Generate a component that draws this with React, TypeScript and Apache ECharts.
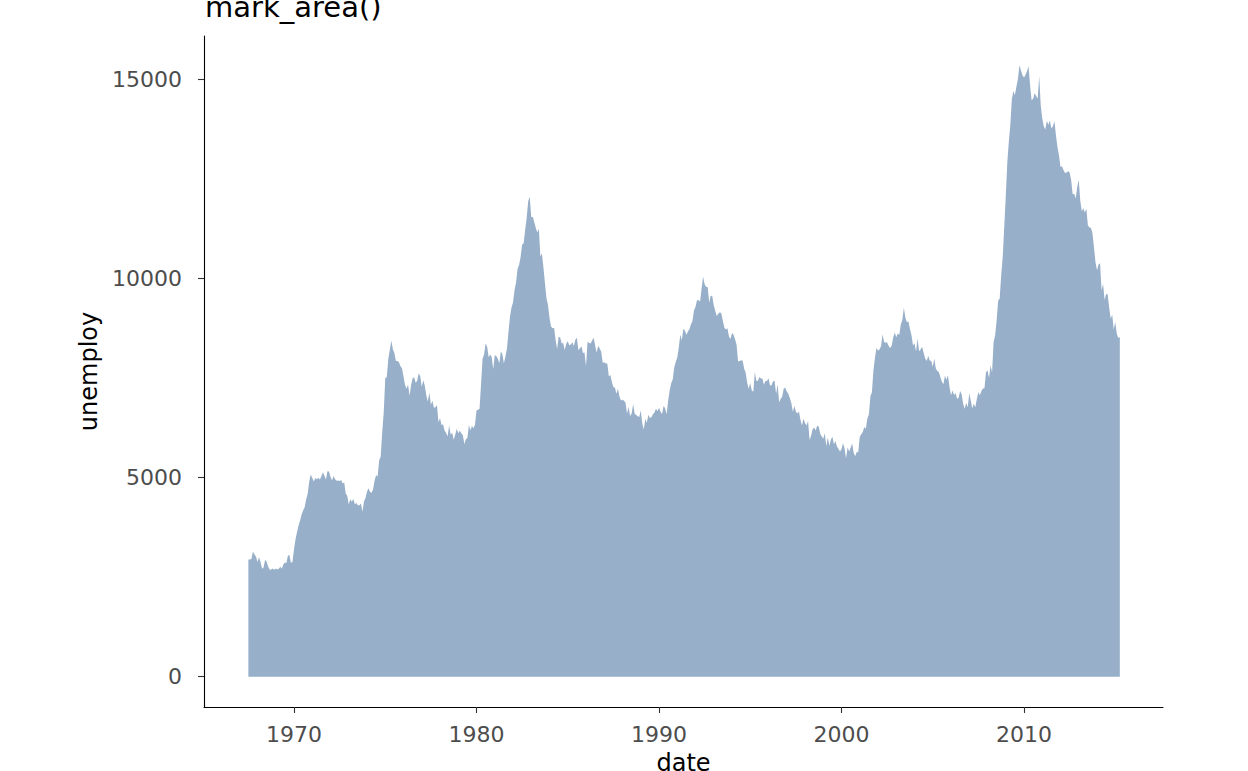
import React, { useEffect, useRef } from "react";
import * as echarts from "echarts";

// economics dataset: monthly unemployment (thousands), starting 1967-07
const startYear = 1967;
const startMonth = 7;
const unemploy: number[] = [
  // 1967 (Jul-Dec)
  2944, 2945, 2958, 3143, 3066, 3018,
  // 1968
  2878, 3001, 2877, 2709, 2740, 2938, 2883, 2768, 2686, 2689, 2715, 2685,
  // 1969
  2718, 2692, 2712, 2758, 2713, 2816, 2868, 2856, 3040, 3049, 2856, 2884,
  // 1970
  3201, 3453, 3635, 3797, 3919, 4071, 4175, 4256, 4456, 4591, 4898, 5076,
  // 1971
  4986, 4903, 4987, 4959, 4996, 4949, 5035, 5134, 5042, 4954, 5161, 5154,
  // 1972
  5019, 4928, 5038, 4959, 4922, 4923, 4913, 4939, 4849, 4875, 4602, 4543,
  // 1973
  4326, 4452, 4394, 4459, 4329, 4363, 4305, 4305, 4350, 4144, 4396, 4489,
  // 1974
  4644, 4731, 4634, 4618, 4705, 4927, 5063, 5022, 5437, 5523, 6140, 6636,
  // 1975
  7501, 7520, 7978, 8210, 8433, 8220, 8127, 7928, 7923, 7897, 7794, 7744,
  // 1976
  7534, 7326, 7230, 7330, 7053, 7322, 7490, 7518, 7380, 7430, 7620, 7545,
  // 1977
  7280, 7443, 7307, 7059, 6911, 7134, 6829, 6925, 6751, 6763, 6815, 6386,
  // 1978
  6489, 6318, 6337, 6180, 6127, 6028, 6309, 6080, 6125, 5947, 6077, 6228,
  // 1979
  6109, 6173, 6109, 6069, 5840, 5959, 5996, 6320, 6190, 6296, 6238, 6325,
  // 1980
  6683, 6702, 6729, 7358, 7984, 8098, 8363, 8281, 8021, 8088, 8023, 7718,
  // 1981
  8071, 8051, 7982, 7869, 8174, 8098, 7863, 8036, 8230, 8646, 9029, 9267,
  // 1982
  9397, 9705, 9895, 10244, 10335, 10538, 10849, 10881, 11217, 11529, 11938, 12051,
  // 1983
  11534, 11545, 11408, 11268, 11154, 11246, 10548, 10623, 10282, 9887, 9499, 9331,
  // 1984
  9008, 8791, 8746, 8762, 8456, 8226, 8537, 8519, 8367, 8381, 8198, 8358,
  // 1985
  8423, 8321, 8339, 8395, 8302, 8460, 8513, 8196, 8248, 8298, 8128, 8138,
  // 1986
  7795, 8402, 8383, 8364, 8439, 8508, 8319, 8135, 8310, 8243, 8159, 7883,
  // 1987
  7892, 7865, 7862, 7542, 7574, 7398, 7268, 7261, 7102, 7227, 7035, 6936,
  // 1988
  6953, 6929, 6876, 6601, 6779, 6546, 6605, 6843, 6604, 6568, 6537, 6518,
  // 1989
  6682, 6359, 6205, 6468, 6375, 6577, 6495, 6511, 6590, 6630, 6725, 6667,
  // 1990
  6752, 6651, 6598, 6797, 6742, 6590, 6922, 7188, 7368, 7459, 7764, 7901,
  // 1991
  8015, 8265, 8586, 8439, 8736, 8692, 8586, 8666, 8722, 8842, 8931, 9198,
  // 1992
  9283, 9454, 9460, 9415, 9744, 10040, 9850, 9787, 9781, 9398, 9565, 9557,
  // 1993
  9325, 9183, 9056, 9110, 9149, 9121, 8930, 8763, 8714, 8750, 8542, 8477,
  // 1994
  8630, 8583, 8470, 8331, 7915, 7927, 7946, 7933, 7734, 7632, 7375, 7230,
  // 1995
  7375, 7187, 7153, 7645, 7430, 7427, 7527, 7484, 7478, 7328, 7426, 7423,
  // 1996
  7491, 7313, 7318, 7415, 7423, 7095, 7337, 6882, 6979, 7031, 7236, 7253,
  // 1997
  7158, 7102, 7000, 6873, 6655, 6799, 6655, 6608, 6656, 6454, 6308, 6476,
  // 1998
  6368, 6306, 6422, 5941, 6047, 6212, 6259, 6179, 6300, 6280, 6100, 6032,
  // 1999
  5976, 6111, 5783, 6004, 5796, 5951, 6025, 5838, 5915, 5778, 5716, 5653,
  // 2000
  5708, 5858, 5733, 5481, 5758, 5651, 5747, 5853, 5625, 5534, 5639, 5634,
  // 2001
  6023, 6089, 6141, 6271, 6226, 6484, 6583, 7042, 7142, 7694, 8003, 8258,
  // 2002
  8182, 8215, 8304, 8599, 8399, 8393, 8390, 8304, 8251, 8307, 8520, 8640,
  // 2003
  8520, 8618, 8588, 8842, 8957, 9266, 9011, 8896, 8921, 8732, 8576, 8317,
  // 2004
  8370, 8167, 8491, 8170, 8212, 8286, 8136, 7990, 7927, 8061, 7932, 7934,
  // 2005
  7784, 7980, 7737, 7672, 7651, 7524, 7406, 7345, 7553, 7453, 7566, 7279,
  // 2006
  7064, 7184, 7072, 7120, 6980, 7001, 7175, 7091, 6847, 6727, 6872, 6762,
  // 2007
  7116, 6927, 6731, 6850, 6766, 6979, 7149, 7067, 7170, 7237, 7240, 7645,
  // 2008
  7685, 7497, 7822, 7637, 8395, 8575, 8937, 9438, 9494, 10074, 10538, 11286,
  // 2009
  12058, 12898, 13426, 13853, 14499, 14707, 14601, 14814, 15009, 15352, 15219, 15098,
  // 2010
  15046, 15113, 15202, 15325, 14849, 14474, 14512, 14648, 14579, 14516, 15081, 14348,
  // 2011
  14013, 13820, 13737, 13957, 13855, 13962, 13763, 13818, 13948, 13594, 13302, 13093,
  // 2012
  12797, 12813, 12713, 12646, 12660, 12692, 12656, 12471, 12115, 12124, 12005, 12298,
  // 2013
  12471, 11950, 11689, 11760, 11654, 11751, 11335, 11279, 11270, 11136, 10787, 10404,
  // 2014
  10202, 10349, 10380, 9702, 9859, 9460, 9608, 9599, 9262, 8990, 9090, 8717,
  // 2015 (Jan-Apr)
  8903, 8610, 8504, 8526,
];

const xTicks = [1970, 1980, 1990, 2000, 2010];
const yTicks = [0, 5000, 10000, 15000];

const FONT = "DejaVu Sans";

export default function App() {
  const ref = useRef<HTMLDivElement>(null);
  useEffect(() => {
    if (!ref.current) return;
    const chart = echarts.init(ref.current, null, { renderer: "svg" });
    const data = unemploy.map((v, i) => {
      const m = startMonth - 1 + i;
      return [startYear + Math.floor(m / 12) + (m % 12) / 12, v];
    });
    chart.setOption({
      animation: false,
      backgroundColor: "#ffffff",
      textStyle: { fontFamily: FONT },
      grid: {
        left: 204,
        top: 36,
        right: 85,
        bottom: 64,
        containLabel: false,
        outerBoundsMode: "none",
      },
      graphic: [
        {
          type: "text",
          left: 205,
          top: -8,
          style: {
            text: "mark_area()",
            fontFamily: FONT,
            fontSize: 29,
            fill: "#000000",
          },
        },
      ],
      xAxis: {
        type: "value",
        min: 1965.068,
        max: 2017.616,
        name: "date",
        nameLocation: "middle",
        nameGap: 44,
        nameTextStyle: { fontFamily: FONT, fontSize: 24, color: "#000000" },
        axisLine: {
          show: true,
          onZero: false,
          lineStyle: { color: "#000000", width: 1.1 },
        },
        axisTick: {
          show: true,
          length: 6,
          customValues: xTicks,
          lineStyle: { color: "#333333", width: 1.1 },
        },
        axisLabel: {
          customValues: xTicks,
          margin: 16,
          fontFamily: FONT,
          fontSize: 22,
          color: "#4d4d4d",
          formatter: (v: number) => String(Math.round(v)),
        },
        splitLine: { show: false },
      },
      yAxis: {
        type: "value",
        min: -761,
        max: 16086,
        name: "unemploy",
        nameLocation: "middle",
        nameGap: 97,
        nameRotate: 90,
        nameTextStyle: { fontFamily: FONT, fontSize: 24, color: "#000000" },
        axisLine: {
          show: true,
          onZero: false,
          lineStyle: { color: "#000000", width: 1.1 },
        },
        axisTick: {
          show: true,
          length: 6,
          customValues: yTicks,
          lineStyle: { color: "#333333", width: 1.1 },
        },
        axisLabel: {
          customValues: yTicks,
          margin: 22,
          fontFamily: FONT,
          fontSize: 22,
          color: "#4d4d4d",
          formatter: (v: number) => String(Math.round(v)),
        },
        splitLine: { show: false },
      },
      series: [
        {
          type: "line",
          data,
          showSymbol: false,
          symbol: "none",
          lineStyle: { width: 0 },
          areaStyle: { color: "#97afc9", opacity: 1 },
          silent: true,
        },
      ],
    });
    return () => chart.dispose();
  }, []);
  return (
    <div
      ref={ref}
      style={{ position: "fixed", left: 0, top: 0, width: 1248, height: 771 }}
    />
  );
}
